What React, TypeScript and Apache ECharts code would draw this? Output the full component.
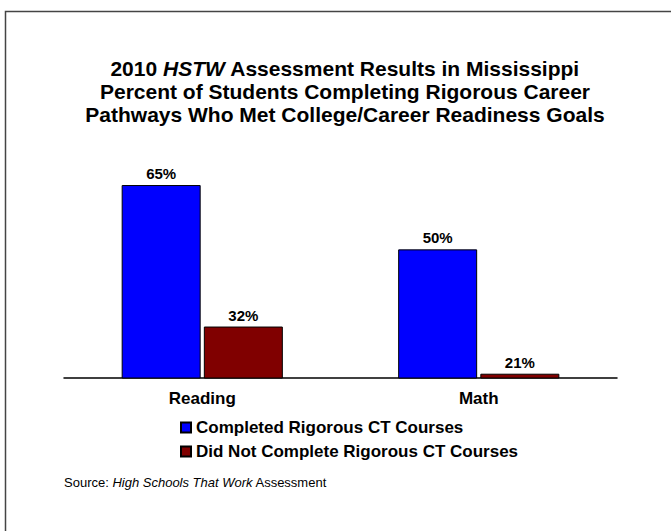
import React, { useEffect, useRef } from "react";
import * as echarts from "echarts";

const categories = ["Reading", "Math"];
const seriesNames = ["Completed Rigorous CT Courses", "Did Not Complete Rigorous CT Courses"];
const completed = [65, 50];
const notCompleted = [32, 21];
const colors = ["#0000FF", "#800000"];
const titleLines = [
  "{n|2010 }{i|HSTW}{n| Assessment Results in Mississippi}",
  "{n|Percent of Students Completing Rigorous Career}",
  "{n|Pathways Who Met College/Career Readiness Goals}",
];

const FONT = "'Liberation Sans', Arial, Helvetica, sans-serif";

export default function App() {
  const ref = useRef<HTMLDivElement>(null);
  useEffect(() => {
    document.body.style.margin = "0";
    if (!ref.current) return;
    const chart = echarts.init(ref.current, null, { renderer: "svg" });
    const makeSeries = (name: string, data: number[], color: string) => ({
      name,
      type: "bar",
      data,
      barWidth: 79,
      barGap: "4%",
      itemStyle: { color, borderColor: "#000", borderWidth: 1 },
      label: {
        show: true,
        position: "top",
        distance: 4,
        formatter: "{c}%",
        color: "#000",
        fontFamily: FONT,
        fontWeight: "bold",
        fontSize: 15,
      },
    });
    chart.setOption({
      animation: false,
      backgroundColor: "#fff",
      textStyle: { fontFamily: FONT },
      title: {
        text: titleLines.join("\n"),
        left: 340,
        textAlign: "center",
        top: 52,
        textStyle: {
          rich: {
            n: { fontFamily: FONT, fontWeight: "bold", fontSize: 21, color: "#000", lineHeight: 23 },
            i: { fontFamily: FONT, fontWeight: "bold", fontStyle: "italic", fontSize: 21, color: "#000", lineHeight: 23 },
          },
        },
      },
      grid: { left: 64, right: 54, top: 163.6, bottom: 153 },
      xAxis: {
        type: "category",
        data: categories,
        axisLine: { show: true, lineStyle: { color: "#000", width: 1.5 } },
        axisTick: { show: false },
        axisLabel: {
          color: "#000",
          fontFamily: FONT,
          fontWeight: "bold",
          fontSize: 17,
          margin: 12,
        },
      },
      yAxis: {
        type: "value",
        min: 20,
        max: 70,
        show: false,
        splitLine: { show: false },
      },
      legend: {
        orient: "vertical",
        left: 175,
        top: 414,
        itemWidth: 10,
        itemHeight: 10,
        itemGap: 7,
        icon: "rect",
        textStyle: { color: "#000", fontFamily: FONT, fontWeight: "bold", fontSize: 17 },
        data: seriesNames,
      },
      graphic: [
        {
          type: "rect",
          shape: { x: 5.5, y: 11.5, width: 700, height: 600 },
          style: { fill: "none", stroke: "#444", lineWidth: 1.5 },
          silent: true,
        },
        {
          type: "text",
          left: 64,
          top: 476,
          style: {
            text: "{n|Source: }{i|High Schools That Work}{n| Assessment}",
            rich: {
              n: { fontFamily: FONT, fontSize: 13, fill: "#000" },
              i: { fontFamily: FONT, fontSize: 13, fontStyle: "italic", fill: "#000" },
            },
          },
        },
      ],
      series: [
        makeSeries(seriesNames[0], completed, colors[0]),
        makeSeries(seriesNames[1], notCompleted, colors[1]),
      ],
    });
    return () => chart.dispose();
  }, []);
  return <div ref={ref} style={{ width: 671, height: 531 }} />;
}
